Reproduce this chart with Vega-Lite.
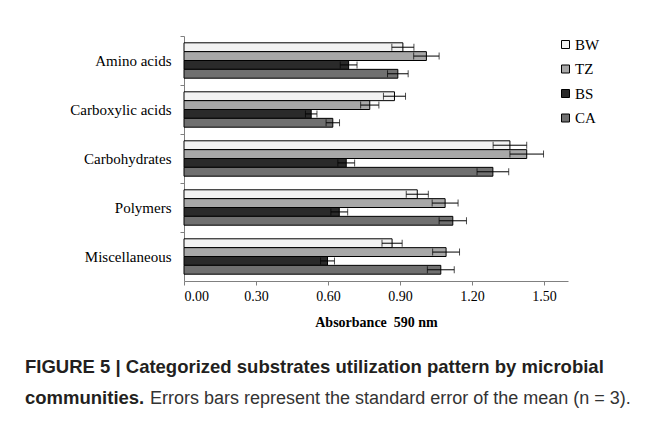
{
  "$schema": "https://vega.github.io/schema/vega-lite/v6.json",
  "width": 384,
  "height": 245,
  "autosize": {"type": "none"},
  "padding": {"left": 184, "top": 36, "right": 89, "bottom": 148},
  "background": "white",
  "config": {"view": {"stroke": null}},
  "data": {
    "values": [
      {"category": "Amino acids", "community": "BW", "value": 0.912, "low": 0.866, "high": 0.958},
      {"category": "Amino acids", "community": "TZ", "value": 1.010, "low": 0.957, "high": 1.063},
      {"category": "Amino acids", "community": "BS", "value": 0.686, "low": 0.651, "high": 0.721},
      {"category": "Amino acids", "community": "CA", "value": 0.891, "low": 0.848, "high": 0.934},
      {"category": "Carboxylic acids", "community": "BW", "value": 0.877, "low": 0.831, "high": 0.923},
      {"category": "Carboxylic acids", "community": "TZ", "value": 0.774, "low": 0.736, "high": 0.812},
      {"category": "Carboxylic acids", "community": "BS", "value": 0.530, "low": 0.506, "high": 0.554},
      {"category": "Carboxylic acids", "community": "CA", "value": 0.620, "low": 0.592, "high": 0.648},
      {"category": "Carbohydrates", "community": "BW", "value": 1.358, "low": 1.288, "high": 1.428},
      {"category": "Carbohydrates", "community": "TZ", "value": 1.428, "low": 1.358, "high": 1.498},
      {"category": "Carbohydrates", "community": "BS", "value": 0.676, "low": 0.641, "high": 0.711},
      {"category": "Carbohydrates", "community": "CA", "value": 1.287, "low": 1.221, "high": 1.353},
      {"category": "Polymers", "community": "BW", "value": 0.972, "low": 0.926, "high": 1.018},
      {"category": "Polymers", "community": "TZ", "value": 1.088, "low": 1.034, "high": 1.142},
      {"category": "Polymers", "community": "BS", "value": 0.647, "low": 0.612, "high": 0.682},
      {"category": "Polymers", "community": "CA", "value": 1.120, "low": 1.063, "high": 1.177},
      {"category": "Miscellaneous", "community": "BW", "value": 0.867, "low": 0.825, "high": 0.909},
      {"category": "Miscellaneous", "community": "TZ", "value": 1.092, "low": 1.036, "high": 1.148},
      {"category": "Miscellaneous", "community": "BS", "value": 0.598, "low": 0.569, "high": 0.627},
      {"category": "Miscellaneous", "community": "CA", "value": 1.070, "low": 1.014, "high": 1.126}
    ]
  },
  "title": {
    "text": ["FIGURE 5 | Categorized substrates utilization pattern by microbial", "communities."],
    "subtitle": "\u200b\u00a0\u00a0\u00a0\u00a0\u00a0\u00a0\u00a0\u00a0\u00a0\u00a0\u00a0\u00a0\u00a0\u00a0\u00a0\u00a0\u00a0\u00a0\u00a0\u00a0\u00a0\u00a0\u00a0\u00a0\u00a0Errors bars represent the standard error of the mean (n = 3).",
    "orient": "bottom",
    "anchor": "start",
    "frame": "group",
    "dx": -159,
    "offset": 29,
    "font": "Liberation Sans",
    "fontSize": 18.5,
    "fontWeight": "bold",
    "color": "#231f20",
    "lineHeight": 31,
    "subtitleFont": "Liberation Sans",
    "subtitleFontSize": 18,
    "subtitleFontWeight": "normal",
    "subtitleColor": "#333333",
    "subtitlePadding": -18
  },
  "encoding": {
    "y": {
      "field": "category",
      "type": "nominal",
      "sort": ["Amino acids", "Carboxylic acids", "Carbohydrates", "Polymers", "Miscellaneous"],
      "scale": {"paddingInner": 0, "paddingOuter": 0},
      "title": null,
      "axis": {
        "bandPosition": 0,
        "labelFont": "Liberation Serif",
        "labelFontSize": 15,
        "labelColor": "black",
        "labelPadding": 9,
        "tickSize": 4,
        "tickColor": "#808080",
        "domainColor": "#808080",
        "grid": false
      }
    },
    "yOffset": {
      "field": "community",
      "type": "nominal",
      "sort": ["BW", "TZ", "BS", "CA"],
      "scale": {"paddingInner": 0, "paddingOuter": 0.77}
    }
  },
  "layer": [
    {
      "mark": {"type": "bar", "stroke": "black", "strokeWidth": 1},
      "encoding": {
        "x": {
          "field": "value",
          "type": "quantitative",
          "title": "Absorbance\u00a0 590 nm",
          "scale": {"domain": [0, 1.6], "nice": false, "zero": true},
          "axis": {
            "values": [0, 0.3, 0.6, 0.9, 1.2, 1.5],
            "format": ".2f",
            "grid": false,
            "labelFont": "Liberation Serif",
            "labelFontSize": 14,
            "labelColor": "black",
            "labelPadding": 4,
            "tickSize": 4,
            "tickColor": "#808080",
            "domainColor": "#808080",
            "titleFont": "Liberation Serif",
            "titleFontSize": 14,
            "titleFontWeight": "bold",
            "titleColor": "black",
            "titlePadding": 12
          }
        },
        "fill": {
          "field": "community",
          "type": "nominal",
          "scale": {"domain": ["BW", "TZ", "BS", "CA"], "range": ["#f2f2f2", "#a8a8a8", "#2a2a2a", "#707070"]},
          "legend": {
            "orient": "none",
            "legendX": 374,
            "legendY": 1,
            "title": null,
            "padding": 0,
            "symbolType": "square",
            "symbolSize": 64,
            "symbolStrokeColor": "black",
            "symbolStrokeWidth": 1,
            "labelFont": "Liberation Serif",
            "labelFontSize": 15,
            "labelColor": "black",
            "labelOffset": 2,
            "rowPadding": 8.5
          }
        }
      }
    },
    {
      "mark": {"type": "rule", "color": "black", "strokeWidth": 1},
      "encoding": {
        "x": {"field": "low", "type": "quantitative", "title": "Absorbance\u00a0 590 nm"},
        "x2": {"field": "high"}
      }
    },
    {
      "mark": {"type": "tick", "color": "black", "thickness": 1, "size": 7},
      "encoding": {
        "x": {"field": "low", "type": "quantitative", "title": "Absorbance\u00a0 590 nm"}
      }
    },
    {
      "mark": {"type": "tick", "color": "black", "thickness": 1, "size": 7},
      "encoding": {
        "x": {"field": "high", "type": "quantitative", "title": "Absorbance\u00a0 590 nm"}
      }
    }
  ]
}
